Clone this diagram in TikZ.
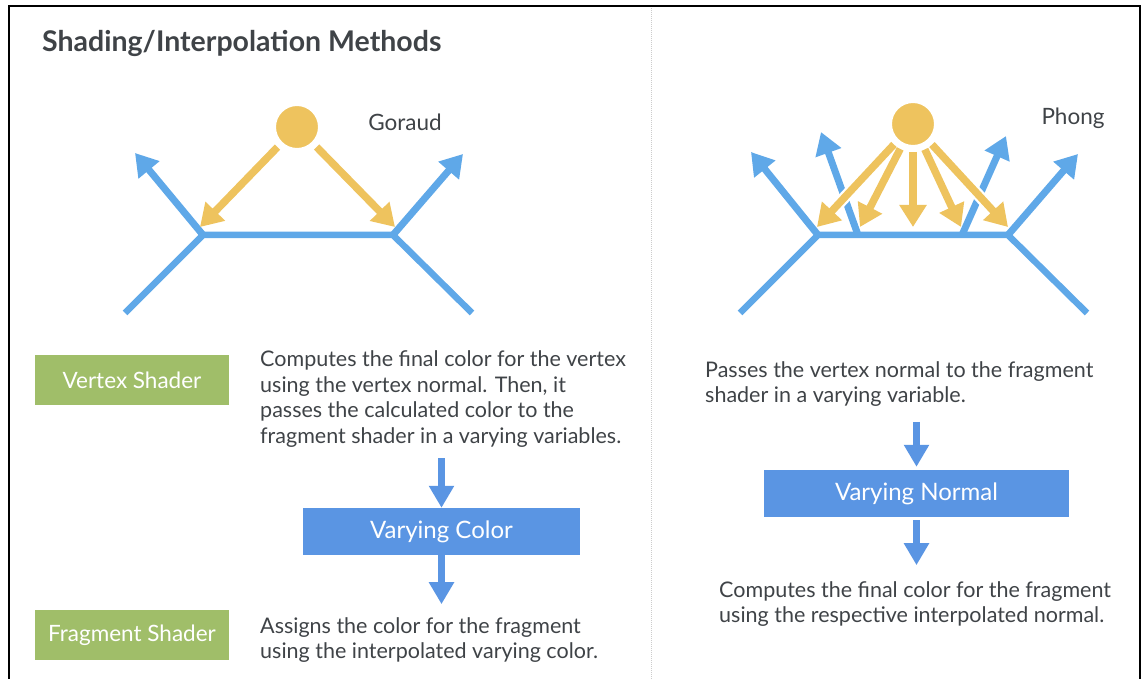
\documentclass[tikz,border=0pt]{standalone}
\usepackage{fontspec}
\setmainfont{Lato}
\usetikzlibrary{arrows.meta,positioning}
\definecolor{sunyellow}{HTML}{EEC35E}
\definecolor{normalblue}{HTML}{5FA8E8}
\definecolor{boxblue}{HTML}{5A95E3}
\definecolor{shadergreen}{HTML}{A0BE69}
\definecolor{textgray}{HTML}{3F4347}

\begin{document}
\begin{tikzpicture}[x=1pt,y=-1pt,font=\fontsize{21.5}{25.5}\selectfont,text=textgray]
\tikzstyle{surface}=[normalblue,line width=6.5pt]
\tikzstyle{normal}=[normalblue,line width=7pt,-{Triangle[length=22pt,width=26pt]}]
\tikzstyle{ray}=[sunyellow,line width=7.5pt,shorten <=4pt,-{Triangle[length=22pt,width=26pt]}]
\tikzstyle{halo}=[white,line width=12pt,shorten <=4pt,-{Triangle[length=25pt,width=33pt]}]
\tikzstyle{sun}=[circle,fill=sunyellow,draw=white,line width=3pt,minimum size=45pt,inner sep=0pt]
\tikzstyle{shader}=[fill=shadergreen,text=white,font=\fontsize{22.5}{26}\selectfont,minimum width=194pt,minimum height=50pt,inner sep=0pt]
\tikzstyle{varying}=[fill=boxblue,text=white,font=\fontsize{24}{28}\selectfont,minimum height=47pt,inner sep=0pt]
\tikzstyle{flow}=[boxblue,line width=7pt,-{Triangle[length=22pt,width=24pt]}]
\tikzstyle{info}=[align=left,anchor=west,inner sep=0pt]
\tikzstyle{label}=[font=\fontsize{22.5}{26}\selectfont]

\useasboundingbox (0,0) rectangle (1144,679);
\draw[line width=2.5pt] (9,679) -- (9,6) -- (1140,6) -- (1140,679);
\draw[black!20,densely dotted,line width=1pt] (651,8) -- (651,679);

\node[anchor=west,inner sep=0pt,font=\fontsize{28.5}{32}\selectfont\bfseries] (title) at (42,43) {Shading/Interpolation Methods};

\node[label] (goraud) at (405,122) {Goraud};
\coordinate (la) at (125,313);
\coordinate (lb) at (203,235);
\coordinate (lc) at (393,235);
\coordinate (ld) at (472,313);
\coordinate (lbn) at (135,153);
\coordinate (lcn) at (463,154);
\coordinate (lbr) at (200,227);
\coordinate (lcr) at (395,227);
\draw[surface] (la) -- (lb) -- (lc) -- (ld);
\draw[normal] (lb) -- (lbn);
\draw[normal] (lc) -- (lcn);
\node[sun] (lsun) at (297,127) {};
\foreach \t in {lbr,lcr}
  \draw[ray] (lsun) -- (\t);

\node[label] (phong) at (1073,118) {Phong};
\coordinate (ra) at (740,313);
\coordinate (rb) at (818,235);
\coordinate (rc) at (1008,235);
\coordinate (rd) at (1087,313);
\coordinate (rm1) at (858,235);
\coordinate (rm2) at (962,235);
\coordinate (rbn) at (751,152);
\coordinate (rm1n) at (821,132);
\coordinate (rm2n) at (1006,136);
\coordinate (rcn) at (1078,154);
\draw[surface] (ra) -- (rb) -- (rc) -- (rd);
\draw[normal] (rb) -- (rbn);
\draw[normal] (rm1) -- (rm1n);
\draw[normal] (rm2) -- (rm2n);
\draw[normal] (rc) -- (rcn);
\node[sun] (rsun) at (913,124) {};
\coordinate (r1) at (817,227);
\coordinate (r2) at (860,227);
\coordinate (r3) at (913,227);
\coordinate (r4) at (961,227);
\coordinate (r5) at (1008,227);
\foreach \t in {r1,r2,r3,r4,r5}
  \draw[halo] (rsun) -- (\t);
\foreach \t in {r1,r2,r3,r4,r5}
  \draw[ray] (rsun) -- (\t);
\node[sun] at (rsun) {};

\node[shader] (vs) at (132,380) {Vertex Shader};
\node[info] (vsinfo) at (260,399) {Computes the final color for the vertex\\using the vertex normal. Then, it\\passes the calculated color to the\\fragment shader in a varying variables.};
\node[varying,minimum width=277pt] (vc) at (441.5,531.5) {Varying Color};
\node[shader] (fs) at (132,635) {Fragment Shader};
\node[info] (fsinfo) at (260,640) {Assigns the color for the fragment\\using the interpolated varying color.};
\draw[flow,shorten <=11pt] (vsinfo.south -| vc.north) -- (vc.north);
\draw[flow,shorten >=13pt] (vc.south) -- (vc.south |- fsinfo.north);

\node[info] (pinfo) at (705,384) {Passes the vertex normal to the fragment\\shader in a varying variable.};
\node[varying,minimum width=305pt] (vn) at (916.5,493.5) {Varying Normal};
\node[info] (cinfo) at (719,604) {Computes the final color for the fragment\\using the respective interpolated normal.};
\draw[flow,shorten <=15pt,shorten >=3pt] (pinfo.south -| vn.north) -- (vn.north);
\draw[flow,shorten <=3pt,shorten >=16pt] (vn.south) -- (vn.south |- cinfo.north);
\end{tikzpicture}
\end{document}
